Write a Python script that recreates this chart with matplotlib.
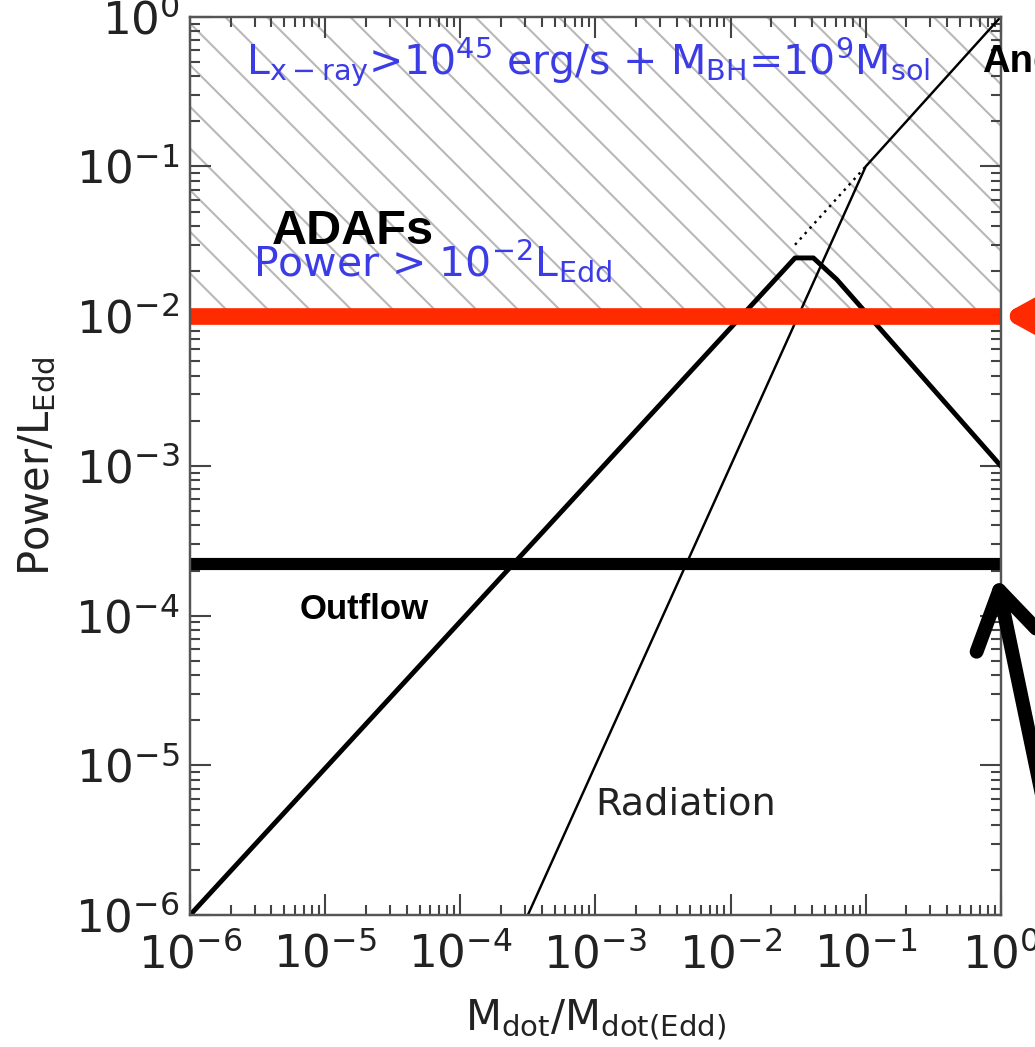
import numpy as np
import matplotlib
matplotlib.use("Agg")
import matplotlib.pyplot as plt
from matplotlib.ticker import LogLocator

# thick curve (ADAF / outflow power)
adaf_x = [1e-6, 0.030, 0.041, 0.061, 1.0]
adaf_y = [1e-6, 0.0245, 0.0245, 0.0176, 1e-3]
# dotted continuation
dot_x = [0.030, 0.1]
dot_y = [0.030, 0.1]
# radiation
rad_x = [3.16e-4, 0.1, 1.0]
rad_y = [1e-6, 0.1, 1.0]
# horizontal levels
red_level = 1e-2
outflow_level = 2.2e-4

plt.rcParams["hatch.linewidth"] = 0.6

fig = plt.figure(figsize=(1035 / 250, 1047 / 250), dpi=250)
ax = fig.add_axes([0.1836, 0.126, 0.967 - 0.1836, 0.984 - 0.126])
ax.set_xscale("log")
ax.set_yscale("log")
ax.set_xlim(1e-6, 1)
ax.set_ylim(1e-6, 1)

# hatched zone above 1e-2
ax.axhspan(red_level, 1, facecolor="none", edgecolor="#b8b8b8", hatch="\\\\", lw=0)

ax.plot(adaf_x, adaf_y, color="black", lw=1.4)
ax.plot(dot_x, dot_y, color="black", lw=0.7, ls=(0, (1, 2)))
ax.plot(rad_x, rad_y, color="black", lw=0.7)
ax.axhline(red_level, color="#ff2a00", lw=4.8, solid_capstyle="butt")
ax.axhline(outflow_level, color="black", lw=3.5, solid_capstyle="butt")

blue = "#3c3ce6"
ax.text(2.6e-6, 0.5, r"L$_{\rm x-ray}$>10$^{45}$ erg/s + M$_{\rm BH}$=10$^9$M$_{\rm sol}$",
        color=blue, fontsize=11.8, va="center", ha="left")
ax.text(2.9e-6, 0.0235, r"Power > 10$^{-2}$L$_{\rm Edd}$",
        color=blue, fontsize=11.8, va="center", ha="left")
ax.text(4.0e-6, 0.037, "ADAFs", fontsize=14, fontweight="bold", va="center", ha="left",
        family="Liberation Sans")
ax.text(6.5e-6, 1.1e-4, "Outflow", fontsize=10, fontweight="bold", va="center", ha="left",
        family="Liberation Sans")
ax.text(1.0e-3, 5.5e-6, "Radiation", fontsize=11, va="center", ha="left", color="#222222")
ax.text(0.72, 0.5, "And", fontsize=11, fontweight="bold", va="center", ha="left",
        family="Liberation Sans", clip_on=False)

# arrows coming from outside the frame
ax.annotate("", xy=(1.0, red_level), xytext=(20, red_level), annotation_clip=False,
            arrowprops=dict(arrowstyle="-|>,head_length=2.0,head_width=1.1",
                            mutation_scale=10, color="#ff2a00", lw=4.8,
                            shrinkA=0, shrinkB=0))
ax.annotate("", xy=(0.93, 1.8e-4), xytext=(2.1, 5.3e-6), annotation_clip=False,
            arrowprops=dict(arrowstyle="->,head_length=1.6,head_width=1.0",
                            mutation_scale=10, color="black", lw=4,
                            shrinkA=0, shrinkB=0, capstyle="round", joinstyle="round"))

for s in ax.spines.values():
    s.set_color("#555555")
    s.set_linewidth(0.7)
ax.xaxis.set_major_locator(LogLocator(base=10, numticks=12))
ax.yaxis.set_major_locator(LogLocator(base=10, numticks=12))
ax.xaxis.set_minor_locator(LogLocator(subs=np.arange(2, 10), numticks=20))
ax.yaxis.set_minor_locator(LogLocator(subs=np.arange(2, 10), numticks=20))
ax.tick_params(which="both", direction="in", top=True, right=True, color="#444444",
               labelsize=13, labelcolor="#222222")
ax.tick_params(which="major", length=6, width=0.6)
ax.tick_params(which="minor", length=3, width=0.6)
ax.tick_params(axis="x", pad=5)
ax.tick_params(axis="y", pad=3)

ax.set_xlabel(r"M$_{\rm dot}$/M$_{\rm dot(Edd)}$", fontsize=12, color="#222222", labelpad=6)
ax.set_ylabel(r"Power/L$_{\rm Edd}$", fontsize=12, color="#222222", labelpad=5)

fig.savefig("out.png", dpi=250)
